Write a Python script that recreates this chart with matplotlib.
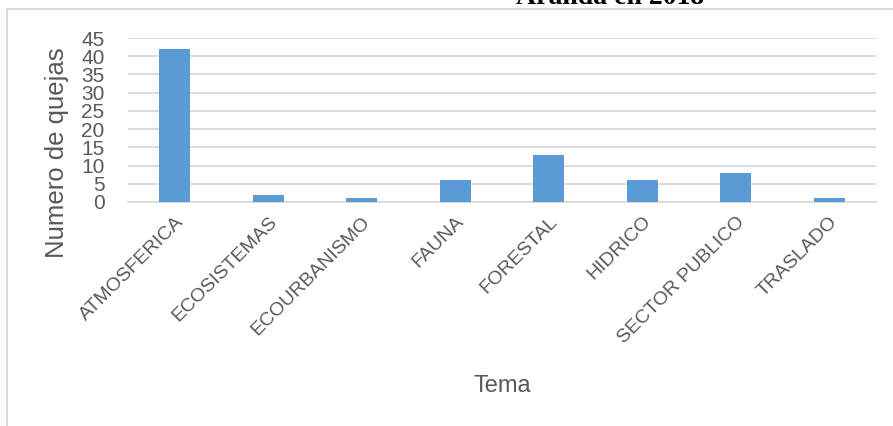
import matplotlib
matplotlib.use("Agg")
from matplotlib import pyplot as plt
from matplotlib.lines import Line2D

temas = ['ATMOSFERICA', 'ECOSISTEMAS', 'ECOURBANISMO', 'FAUNA',
         'FORESTAL', 'HIDRICO', 'SECTOR PUBLICO', 'TRASLADO']
quejas = [42, 2, 1, 6, 13, 6, 8, 1]
y_ticks = [0, 5, 10, 15, 20, 25, 30, 35, 40, 45]

plt.rcParams['font.family'] = ['Liberation Sans', 'DejaVu Sans']

W, H = 893, 426
fig = plt.figure(figsize=(W / 100, H / 100), dpi=100)
ax = fig.add_axes([128 / W, 1 - 202 / H, (876 - 128) / W, (202 - 38) / H])

x = range(len(temas))
ax.bar(x, quejas, width=0.33, color='#5b9bd5', zorder=3)

ax.set_xlim(-0.5, len(temas) - 0.5)
ax.set_ylim(0, 45)
ax.set_yticks(y_ticks)
ax.set_yticklabels([str(t) for t in y_ticks], fontsize=15, color='#595959')
ax.set_xticks(list(x))
ax.set_xticklabels(temas, rotation=45, ha='right', rotation_mode='anchor',
                   fontsize=14, color='#595959')
ax.tick_params(axis='both', length=0)
ax.tick_params(axis='x', pad=8)
ax.tick_params(axis='y', pad=17)

ax.grid(axis='y', color='#d9d9d9', linewidth=1.3, zorder=0)
for s in ['top', 'right', 'left']:
    ax.spines[s].set_visible(False)
ax.spines['bottom'].set_color('#d9d9d9')
ax.spines['bottom'].set_linewidth(1.3)

fig.text(57 / W, 1 - 153 / H, 'Numero de quejas', fontsize=18.5, color='#595959',
         rotation=90, ha='center', va='center')
fig.text(502 / W, 1 - 386 / H, 'Tema', fontsize=17, color='#595959',
         ha='center', va='center')

# chart area border (cropped from a document)
fig.add_artist(Line2D([7 / W, 7 / W], [0, 1 - 9 / H], color='#d9d9d9', linewidth=1.5))
fig.add_artist(Line2D([7 / W, 1], [1 - 9 / H, 1 - 9 / H], color='#d9d9d9', linewidth=1.5))

# title cut off at the top
fig.text(610 / W, 1 - 4 / H, 'Aranda en 2018', fontsize=20, family='Liberation Serif',
         fontweight='bold', ha='center', va='baseline', color='black')

fig.savefig('out.png', dpi=100)
